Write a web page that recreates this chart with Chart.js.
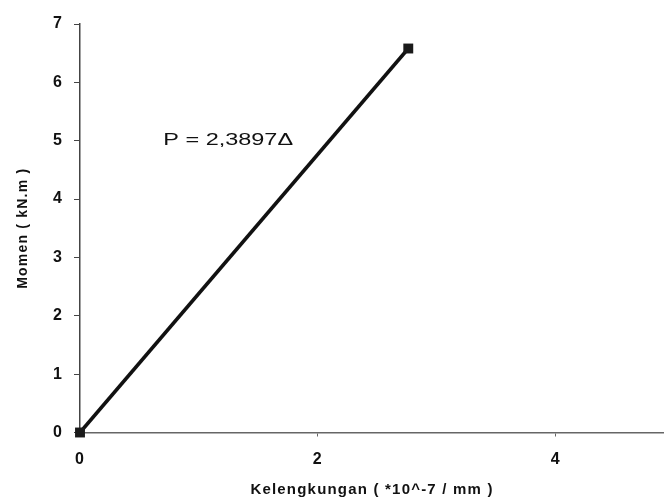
<!DOCTYPE html>
<html>
<head>
<meta charset="utf-8">
<script src="https://cdn.jsdelivr.net/npm/chart.js@4.4.0/dist/chart.umd.min.js"></script>
<style>
html,body{margin:0;padding:0;background:#fff;}
#wrap{width:664px;height:504px;position:relative;}
</style>
</head>
<body>
<div id="wrap"><canvas id="c" width="664" height="504"></canvas></div>
<script>
const xValues = [0, 2.76];
const yValues = [0, 6.58];
const xTitle = 'Kelengkungan ( *10^-7 / mm )';
const yTitle = 'Momen ( kN.m )';
const annotationText = 'P = 2,3897\u0394';
const annotationAt = [0.7, 5];

const points = xValues.map((x, i) => ({x: x, y: yValues[i]}));

const spacing = {
  id: 'spacing',
  beforeDraw(chart) { chart.ctx.letterSpacing = '1.2px'; },
  afterDraw(chart) { chart.ctx.letterSpacing = '0px'; }
};

const annotate = {
  id: 'annotate',
  afterDatasetsDraw(chart) {
    const ctx = chart.ctx;
    const xs = chart.scales.x, ys = chart.scales.y;
    const px = xs.getPixelForValue(annotationAt[0]);
    const py = ys.getPixelForValue(annotationAt[1]);
    ctx.save();
    ctx.letterSpacing = '0px';
    ctx.translate(px, py);
    ctx.scale(1.38, 1);
    ctx.font = '17px "Liberation Sans", Arial, sans-serif';
    ctx.fillStyle = '#111';
    ctx.textAlign = 'left';
    ctx.textBaseline = 'middle';
    ctx.fillText(annotationText, 0, 0);
    ctx.restore();
  }
};

new Chart(document.getElementById('c'), {
  type: 'scatter',
  data: {
    datasets: [{
      data: points,
      showLine: true,
      borderColor: '#111',
      borderWidth: 3.5,
      pointStyle: 'rect',
      pointRadius: 7,
      pointBackgroundColor: '#1a1a1a',
      pointBorderColor: '#1a1a1a',
      pointBorderWidth: 0,
      clip: false
    }]
  },
  options: {
    responsive: false,
    animation: false,
    devicePixelRatio: 1,
    layout: {autoPadding: false, padding: {top: 24, right: 0, left: 0, bottom: 0}},
    plugins: {legend: {display: false}, tooltip: {enabled: false}},
    scales: {
      x: {
        type: 'linear',
        min: 0,
        max: 4.91,
        afterFit(s) { s.height = 71.5; s.paddingRight = 0; s.paddingLeft = 0; },
        ticks: {
          stepSize: 2,
          includeBounds: false,
          color: '#111',
          padding: 13,
          maxRotation: 0,
          font: {family: '"Liberation Sans", Arial, sans-serif', size: 16, weight: 'bold'}
        },
        grid: {drawOnChartArea: false, drawTicks: true, tickLength: 4, color: '#666'},
        border: {color: '#666', width: 1.5},
        title: {
          display: true,
          text: xTitle,
          color: '#111',
          padding: {top: 0, bottom: 5},
          font: {family: '"Liberation Sans", Arial, sans-serif', size: 15, weight: 'bold'}
        }
      },
      y: {
        type: 'linear',
        min: 0,
        max: 7,
        afterFit(s) { s.width = 80; s.paddingTop = 0; s.paddingBottom = 0; },
        ticks: {
          stepSize: 1,
          color: '#111',
          padding: 11,
          font: {family: '"Liberation Sans", Arial, sans-serif', size: 16, weight: 'bold'}
        },
        grid: {drawOnChartArea: false, drawTicks: true, tickLength: 6, color: '#444'},
        border: {color: '#444', width: 1.5},
        title: {
          display: true,
          text: yTitle,
          color: '#111',
          padding: {top: 15, bottom: 0},
          font: {family: '"Liberation Sans", Arial, sans-serif', size: 14, weight: 'bold'}
        }
      }
    }
  },
  plugins: [spacing, annotate]
});
</script>
</body>
</html>
